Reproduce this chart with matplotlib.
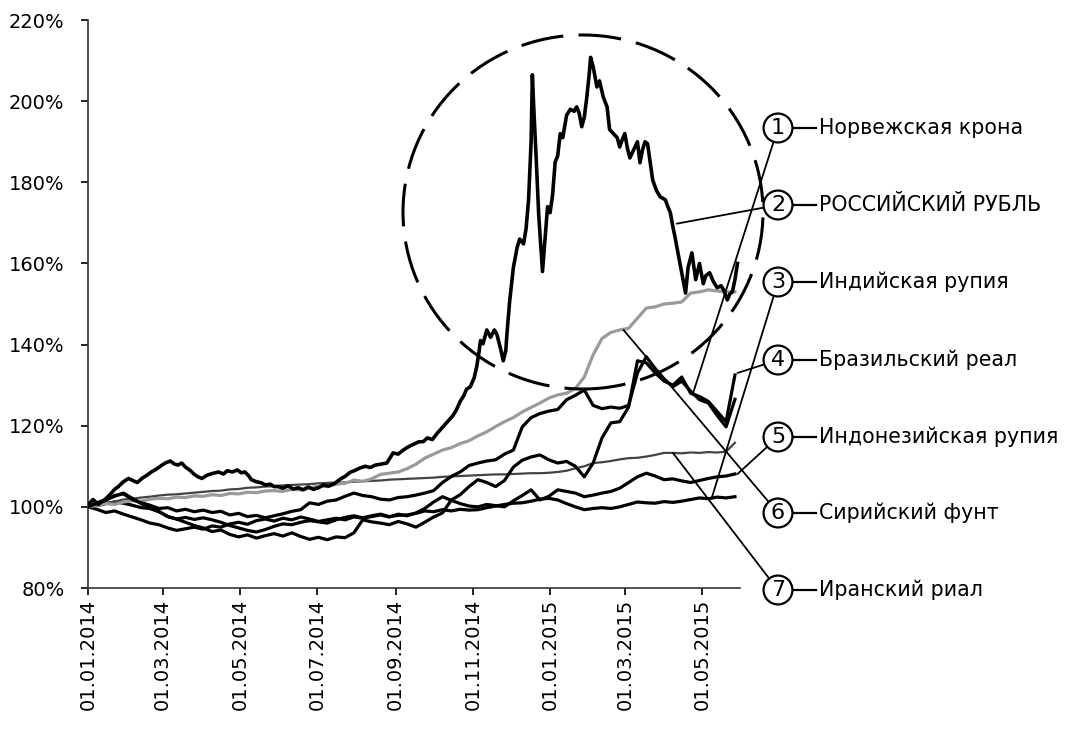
import numpy as np
from matplotlib import pyplot as plt
from matplotlib import dates as mdates
from matplotlib import patches, lines

# day offsets from 01.01.2014 (weekly grid for most series)
START = np.datetime64('2014-01-01')
week_days = list(range(0, 512, 7))

# values in % of 01.01.2014 level
nok = [100.0, 100.9, 101.6, 102.8, 103.2, 101.8, 101.0, 100.4, 99.6, 99.8,
       99.0, 99.4, 98.8, 99.2, 98.6, 98.9, 98.0, 98.4, 97.6, 97.9,
       97.3, 97.8, 98.3, 98.9, 99.3, 101.0, 100.6, 101.4, 101.7, 102.6,
       103.4, 102.8, 102.5, 101.9, 101.7, 102.3, 102.5, 102.9, 103.4, 104.0,
       106.0, 107.5, 108.6, 110.2, 110.8, 111.3, 111.6, 113.0, 114.0, 119.7,
       122.0, 123.0, 123.6, 124.0, 126.4, 127.5, 128.8, 125.0, 124.2, 124.6,
       124.3, 125.0, 133.0, 137.0, 134.0, 131.5, 129.6, 131.0, 128.5, 126.4,
       125.6, 122.5, 119.7, 126.5]
brl = [100.0, 101.0, 101.8, 102.6, 103.4, 102.1, 100.8, 99.6, 98.9, 97.6,
       97.0, 96.2, 95.4, 94.8, 93.9, 94.3, 93.2, 92.6, 93.1, 92.3,
       92.9, 93.4, 92.8, 93.6, 92.7, 92.0, 92.5, 91.9, 92.6, 92.4,
       93.6, 96.8, 96.3, 96.0, 95.6, 96.4, 95.8, 95.0, 96.2, 97.5,
       98.5, 101.7, 103.0, 105.0, 106.7, 106.0, 105.0, 106.5, 109.8, 111.5,
       112.3, 112.8, 111.6, 110.8, 111.2, 110.0, 107.4, 110.8, 117.0, 120.7,
       121.0, 124.6, 136.0, 135.5, 133.0, 131.0, 130.0, 132.0, 128.0, 127.2,
       126.0, 123.5, 121.0, 132.5]
idr = [100.0, 99.4, 98.6, 99.0, 98.2, 97.5, 96.8, 96.0, 95.6, 94.8,
       94.2, 94.6, 95.0, 94.5, 95.3, 95.0, 95.8, 96.2, 95.7, 96.6,
       97.0, 96.5, 97.2, 96.8, 97.5, 97.0, 96.4, 96.8, 97.2, 96.8,
       97.5, 97.2, 97.6, 98.0, 97.5, 98.2, 97.8, 98.5, 99.6, 101.2,
       102.5, 101.6, 100.8, 100.2, 100.0, 100.6, 100.3, 100.0, 101.5, 102.8,
       104.2, 101.7, 102.6, 104.2, 103.8, 103.4, 102.5, 102.9, 103.4, 103.8,
       104.6, 106.0, 107.4, 108.3, 107.6, 106.7, 106.9, 106.4, 106.0, 106.5,
       107.0, 107.4, 107.6, 108.1]
inr = [100.0, 100.3, 100.8, 101.2, 100.9, 100.4, 99.8, 99.6, 98.8, 97.6,
       97.0, 97.4, 96.9, 97.3, 96.8, 96.2, 95.4, 94.8, 94.2, 93.8,
       94.4, 95.2, 95.8, 95.6, 96.2, 96.6, 96.3, 96.0, 96.8, 97.4,
       97.8, 97.3, 97.8, 98.2, 97.6, 97.9, 98.0, 98.4, 99.0, 98.8,
       99.3, 99.0, 99.4, 99.2, 99.3, 99.8, 100.2, 100.6, 100.9, 101.0,
       101.4, 101.9, 102.1, 101.7, 100.8, 100.0, 99.3, 99.6, 99.8, 99.6,
       100.0, 100.6, 101.2, 101.0, 100.9, 101.3, 101.1, 101.4, 101.8, 102.2,
       102.0, 102.4, 102.2, 102.5]
syp = [100.0, 100.3, 100.8, 100.6, 101.2, 101.5, 101.4, 101.9, 102.1, 102.0,
       102.4, 102.3, 102.7, 102.6, 103.0, 102.8, 103.3, 103.2, 103.6, 103.5,
       103.9, 104.0, 103.8, 104.3, 104.2, 104.6, 105.2, 105.0, 105.6, 105.8,
       106.6, 106.3, 106.9, 108.0, 108.3, 108.6, 109.4, 110.5, 112.0, 113.0,
       114.0, 114.6, 115.6, 116.3, 117.5, 118.5, 119.8, 121.0, 122.0, 123.4,
       124.5, 125.6, 126.8, 127.6, 128.0, 129.2, 132.0, 137.5, 141.5, 143.0,
       143.6, 144.0, 146.5, 149.0, 149.3, 150.0, 150.2, 150.5, 152.7, 153.0,
       153.5, 153.2, 153.0, 153.0]
irr = [100.0, 100.4, 100.9, 101.3, 101.8, 102.0, 102.3, 102.5, 102.8, 103.0,
       103.1, 103.3, 103.5, 103.7, 103.9, 104.0, 104.3, 104.4, 104.7, 104.8,
       105.0, 105.1, 105.3, 105.4, 105.5, 105.6, 105.8, 105.9, 106.0, 106.0,
       106.2, 106.3, 106.4, 106.5, 106.7, 106.8, 106.9, 107.0, 107.1, 107.2,
       107.4, 107.5, 107.6, 107.7, 107.8, 107.9, 108.0, 108.0, 108.1, 108.2,
       108.3, 108.3, 108.4, 108.6, 108.9, 109.5, 110.0, 110.8, 111.0, 111.3,
       111.7, 112.0, 112.1, 112.4, 112.8, 113.3, 113.3, 113.2, 113.4, 113.3,
       113.5, 113.4, 113.6, 115.8]

# ruble needs a finer grid (december / february spikes)
rub_days = [0, 4, 8, 13, 17, 21, 24, 28, 32, 36, 39, 43, 47, 50, 54, 58, 61, 65, 68, 71,
            74, 77, 81, 84, 87, 90, 94, 98, 103, 107, 110, 114, 118, 121, 124, 127, 129, 133, 137, 140,
            144, 147, 150, 154, 158, 162, 166, 170, 174, 178, 182, 186, 190, 195, 199, 203, 207, 211, 215, 219,
            223, 227, 231, 236, 241, 245, 249, 253, 257, 261, 265, 268, 272, 276, 280, 284, 288, 291, 294, 297,
            299, 302, 305, 307, 309, 310, 312, 315, 318, 321, 323, 326, 328, 330, 331, 333, 336, 339, 341, 344,
            346, 348, 350, 351, 352, 354, 356, 359, 361, 363, 365, 367, 369, 371, 373, 375, 378, 381, 384, 386,
            388, 390, 392, 394, 396, 397, 399, 402, 404, 407, 410, 412, 415, 418, 420, 422, 424, 426, 428, 431,
            434, 436, 438, 440, 442, 444, 446, 449, 452, 456, 458, 460, 462, 464, 466, 469, 472, 474, 477, 480,
            483, 486, 488, 491, 494, 497, 500, 502, 505, 507, 509, 511, 513]
rub = [100.5, 101.8, 100.6, 101.7, 102.9, 104.3, 105.0, 106.2, 107.0, 106.4, 106.0, 107.1, 107.9, 108.6, 109.3, 110.2, 110.8, 111.3, 110.6, 110.3,
       110.8, 109.8, 108.9, 108.0, 107.4, 107.0, 107.8, 108.2, 108.6, 108.1, 108.9, 108.6, 109.1, 108.4, 108.6, 107.6, 106.7, 106.2, 105.9, 105.4,
       105.6, 105.0, 105.0, 104.6, 105.2, 104.4, 104.7, 104.2, 104.9, 104.3, 104.7, 105.4, 105.1, 105.8, 106.8, 107.5, 108.5, 109.0, 109.6, 110.0,
       109.7, 110.3, 110.5, 110.8, 113.3, 113.0, 114.0, 114.8, 115.4, 116.0, 116.1, 117.0, 116.6, 118.2, 119.6, 121.0, 122.4, 123.9, 126.0, 127.5,
       129.0, 129.6, 131.8, 134.5, 138.5, 141.0, 140.2, 143.6, 141.8, 143.6, 142.5, 138.8, 136.0, 138.5, 143.0, 150.5, 159.0, 164.0, 166.0, 164.8,
       168.5, 175.7, 190.0, 206.5, 199.0, 186.0, 172.0, 158.0, 166.0, 174.0, 172.5, 177.0, 185.0, 186.5, 192.0, 191.0, 196.5, 198.0, 197.5, 198.6,
       197.0, 193.7, 196.0, 201.0, 207.0, 210.8, 208.5, 203.5, 205.0, 201.0, 198.6, 193.0, 192.0, 191.0, 188.7, 190.5, 192.0, 188.5, 186.0, 188.0,
       190.0, 184.8, 188.0, 190.0, 189.5, 185.0, 180.6, 178.0, 176.4, 175.7, 174.0, 172.5, 169.0, 166.0, 162.6, 157.7, 152.7, 159.0, 162.6, 156.0,
       160.0, 155.0, 157.0, 157.7, 155.5, 154.0, 154.5, 153.5, 151.0, 152.5, 153.0, 156.0, 160.0]

# callout labels (numbered circles on the right)
names = ['Норвежская крона', 'РОССИЙСКИЙ РУБЛЬ', 'Индийская рупия', 'Бразильский реал',
         'Индонезийская рупия', 'Сирийский фунт', 'Иранский риал']
# where each leader line touches its series (day offset, %)
leader_days = [478, 465, 493, 513, 513, 423, 462]
leader_vals = [128.1, 169.8, 102.5, 133.0, 108.1, 143.6, 113.3]

W, H = 1070, 729


def to_dates(days):
    return START + np.array(days).astype('timedelta64[D]')


def main():
    fig = plt.figure(figsize=(W / 100, H / 100), dpi=100)
    ax = fig.add_axes([88 / W, 1 - 588 / H, (740 - 88) / W, (588 - 20) / H])

    wd = to_dates(week_days)
    # draw the series (black / gray like the printed original)
    ax.plot(wd, inr, color='black', lw=2.3, zorder=3)
    ax.plot(wd, idr, color='black', lw=2.3, zorder=3)
    ax.plot(wd, irr, color='#444444', lw=1.6, zorder=3)
    ax.plot(wd, syp, color='#9a9a9a', lw=2.3, zorder=3)
    ax.plot(wd, brl, color='black', lw=2.3, zorder=4)
    ax.plot(wd, nok, color='black', lw=2.3, zorder=4)
    ax.plot(to_dates(rub_days), rub, color='black', lw=2.6, zorder=5)

    # axes
    ax.set_xlim(START, START + np.timedelta64(515, 'D'))
    ax.set_ylim(80, 220)
    ax.set_yticks(np.arange(80, 221, 20))
    ax.yaxis.set_major_formatter(plt.FuncFormatter(lambda v, p: f'{v:.0f}%'))
    ax.xaxis.set_major_locator(mdates.MonthLocator(bymonth=[1, 3, 5, 7, 9, 11]))
    ax.xaxis.set_major_formatter(mdates.DateFormatter('%d.%m.%Y'))
    for s in ['top', 'right']:
        ax.spines[s].set_visible(False)
    for s in ['left', 'bottom']:
        ax.spines[s].set_color('#333333')
        ax.spines[s].set_linewidth(1.2)
    ax.tick_params(axis='y', direction='out', length=5, width=1.2, pad=12, labelsize=14)
    ax.tick_params(axis='x', direction='out', length=5, width=1.2, pad=3, labelsize=14, labelrotation=90)

    # dashed circle around the ruble spike
    ell = patches.Ellipse((583 / W, 1 - 212 / H), 360 / W, 354 / H, transform=fig.transFigure,
                          fill=False, ec='black', lw=2.2, ls=(0, (14, 5)), zorder=6)
    fig.add_artist(ell)

    # numbered callouts with leader lines and names
    ys = [128, 205, 282, 360, 437, 513, 590]
    for i, (name, y) in enumerate(zip(names, ys)):
        fy = 1 - y / H
        ax.annotate(str(i + 1), xy=(to_dates([leader_days[i]])[0], leader_vals[i]), xycoords='data',
                    xytext=(778 / W, fy), textcoords='figure fraction', ha='center', va='center',
                    fontsize=16, annotation_clip=False, zorder=8,
                    bbox=dict(boxstyle='circle,pad=0.2', fc='white', ec='black', lw=1.6),
                    arrowprops=dict(arrowstyle='-', lw=1.3, color='black', shrinkA=0, shrinkB=0))
        fig.add_artist(lines.Line2D([794 / W, 816 / W], [fy, fy], transform=fig.transFigure,
                                    color='black', lw=1.6))
        fig.text(819 / W, fy, name, fontsize=14.8, va='center', ha='left')

    fig.savefig('out.png', dpi=100)


if __name__ == '__main__':
    main()
